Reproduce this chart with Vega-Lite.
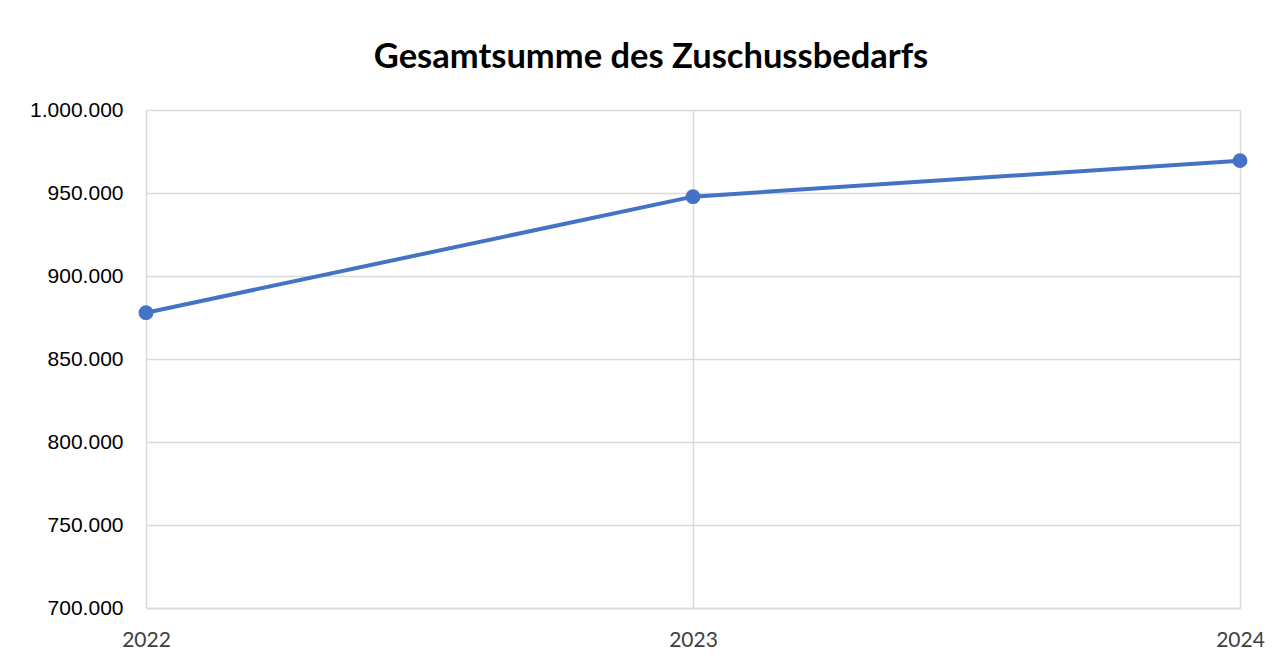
{
  "$schema": "https://vega.github.io/schema/vega-lite/v6.json",
  "autosize": {"type": "none"},
  "padding": {"left": 146, "top": 110, "right": 44, "bottom": 56},
  "width": 1094,
  "height": 498,
  "background": "white",
  "title": {
    "text": "Gesamtsumme des Zuschussbedarfs",
    "font": "Lato",
    "fontSize": 34.5,
    "fontWeight": "bold",
    "color": "#000000",
    "anchor": "middle",
    "dx": -42,
    "offset": 24
  },
  "config": {
    "locale": {"number": {"decimal": ",", "thousands": ".", "grouping": [3], "currency": ["", " €"]}},
    "view": {"stroke": null}
  },
  "data": {"values": [
    {"Jahr": "2022", "Zuschussbedarf": 877900},
    {"Jahr": "2023", "Zuschussbedarf": 947800},
    {"Jahr": "2024", "Zuschussbedarf": 969500}
  ]},
  "mark": {"type": "line", "color": "#4472C4", "strokeWidth": 4, "point": {"filled": true, "size": 220, "color": "#4472C4", "opacity": 1}},
  "encoding": {
    "x": {
      "field": "Jahr", "type": "ordinal",
      "scale": {"type": "point", "padding": 0},
      "axis": {
        "title": null, "labelAngle": 0, "labelFont": "Lato", "labelFontSize": 21, "labelColor": "#404040",
        "labelPadding": 21, "ticks": false, "tickSize": 0, "domain": true, "domainColor": "#d9d9d9", "domainWidth": 1.5,
        "grid": true, "gridColor": "#d9d9d9", "gridWidth": 1.5
      }
    },
    "y": {
      "field": "Zuschussbedarf", "type": "quantitative",
      "scale": {"domain": [700000, 1000000], "zero": false, "nice": false},
      "axis": {
        "title": null, "values": [700000, 750000, 800000, 850000, 900000, 950000, 1000000], "format": ",.0f",
        "labelFont": "Liberation Sans", "labelFontSize": 21, "labelColor": "#000000", "labelPadding": 23,
        "ticks": false, "tickSize": 0, "domain": false, "grid": true, "gridColor": "#d9d9d9", "gridWidth": 1.5
      }
    }
  }
}
